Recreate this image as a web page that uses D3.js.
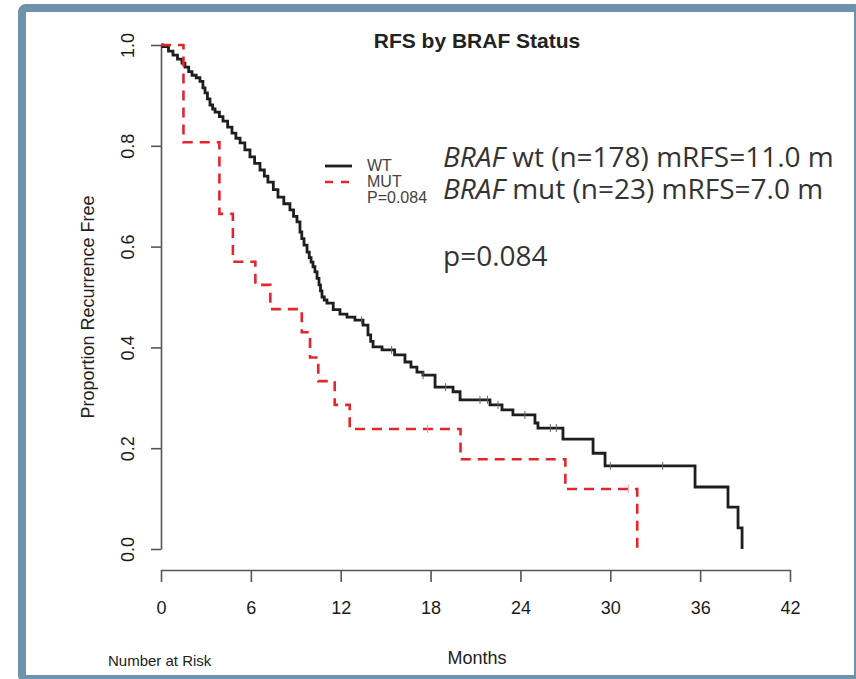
<!DOCTYPE html>
<html>
<head>
<meta charset="utf-8">
<script src="https://cdn.jsdelivr.net/npm/d3@7"></script>
<style>
  body { margin: 0; background: #fff; }
  text { font-family: "Liberation Sans", Arial, sans-serif; }
  text.note { font-family: "Open Sans", "Noto Sans", sans-serif; }
</style>
</head>
<body>
<div class="canvas"></div>
<script>
// curve data (months, proportion recurrence free)
const wtTimes = [0, 0.13, 0.5, 0.8, 1.1, 1.4, 1.6, 1.85, 2.07, 2.35, 2.6, 2.8, 2.94, 3.1, 3.27, 3.45, 3.61, 3.9, 4.14, 4.45, 4.74, 5.0, 5.28, 5.6, 5.94, 6.25, 6.61, 6.9, 7.14, 7.5, 7.81, 8.2, 8.61, 8.85, 9.08, 9.28, 9.4, 9.55, 9.75, 9.9, 10.02, 10.15, 10.28, 10.42, 10.55, 10.65, 10.75, 10.9, 11.08, 11.5, 11.95, 12.42, 12.95, 13.49, 13.82, 14.0, 14.16, 14.76, 15.6, 16.29, 16.69, 17.09, 17.49, 18.3, 19.5, 19.97, 21.97, 22.77, 23.5, 24.97, 25.17, 26.84, 28.85, 29.65, 35.66, 37.86, 38.53, 38.8];
const wtSurv  = [1, 0.997, 0.988, 0.98, 0.972, 0.964, 0.956, 0.947, 0.94, 0.935, 0.928, 0.915, 0.905, 0.893, 0.881, 0.873, 0.867, 0.858, 0.849, 0.837, 0.825, 0.815, 0.806, 0.792, 0.778, 0.765, 0.752, 0.74, 0.728, 0.713, 0.698, 0.685, 0.673, 0.66, 0.649, 0.629, 0.616, 0.603, 0.589, 0.578, 0.569, 0.56, 0.55, 0.537, 0.524, 0.512, 0.5, 0.494, 0.488, 0.475, 0.466, 0.46, 0.454, 0.444, 0.425, 0.412, 0.401, 0.395, 0.385, 0.371, 0.361, 0.351, 0.345, 0.321, 0.312, 0.296, 0.286, 0.276, 0.266, 0.25, 0.24, 0.218, 0.19, 0.165, 0.123, 0.083, 0.042, 0];
const mutTimes = [0, 1.5, 3.9, 4.8, 6.3, 7.3, 9.4, 9.95, 10.5, 11.6, 12.6, 20.0, 27.0, 31.8];
const mutSurv  = [1, 0.807, 0.665, 0.57, 0.524, 0.476, 0.43, 0.38, 0.333, 0.286, 0.238, 0.178, 0.119, 0];
const wtCensor = [13.4, 15.4, 17.5, 19.0, 21.3, 21.8, 22.5, 24.3, 26.0, 26.4, 30.0, 33.5];
const mutCensor = [17.8, 31.2];

const xTicks = [0, 6, 12, 18, 24, 30, 36, 42];
const yTicks = [0, 0.2, 0.4, 0.6, 0.8, 1.0];
const legendLabels = ['WT', 'MUT', 'P=0.084'];
const noteLines = [
  {it: 'BRAF', rest: ' wt (n=178) mRFS=11.0 m'},
  {it: 'BRAF', rest: ' mut (n=23) mRFS=7.0 m'},
  {it: '', rest: 'p=0.084'}
];

const svg = d3.select('.canvas')
  .append('svg')
  .attr('width', 856)
  .attr('height', 679);

// frame
svg.append('rect')
  .attr('x', 22).attr('y', 8)
  .attr('width', 836).attr('height', 671)
  .attr('rx', 4)
  .attr('fill', '#fff')
  .attr('stroke', '#6d92ab')
  .attr('stroke-width', 8);

const x = d3.scaleLinear().domain([0, 42]).range([161, 790]);
const y = d3.scaleLinear().domain([0, 1]).range([549, 45]);

// axes
const yAxis = d3.axisLeft(y).tickValues(yTicks).tickSize(10).tickSizeOuter(0)
  .tickFormat(d3.format('.1f'));
const yAxisGroup = svg.append('g').attr('transform', 'translate(161,0)').call(yAxis);
yAxisGroup.selectAll('text')
  .attr('x', null).attr('dy', null)
  .attr('transform', 'translate(-27,0) rotate(-90)')
  .attr('text-anchor', 'middle');

const xAxis = d3.axisBottom(x).tickValues(xTicks).tickSize(12).tickSizeOuter(0).tickPadding(19);
const xAxisGroup = svg.append('g').attr('transform', 'translate(0,570)').call(xAxis);

[yAxisGroup, xAxisGroup].forEach(g => {
  g.select('.domain').attr('stroke', '#555').attr('stroke-width', 1.6);
  g.selectAll('line').attr('stroke', '#555').attr('stroke-width', 1.6);
  g.selectAll('text')
    .attr('font-family', '"Liberation Sans", Arial, sans-serif')
    .attr('font-size', 18).attr('fill', '#1a1a1a');
});

// curves
const line = d3.line()
  .x(d => x(d[0]))
  .y(d => y(d[1]))
  .curve(d3.curveStepAfter);

const wtPts = wtTimes.map((t, i) => [t, wtSurv[i]]);
const mutPts = mutTimes.map((t, i) => [t, mutSurv[i]]);

svg.append('path').datum(wtPts)
  .attr('d', line)
  .attr('fill', 'none')
  .attr('stroke', '#1e1e1e')
  .attr('stroke-width', 2.8);

svg.append('path').datum(mutPts)
  .attr('d', line)
  .attr('fill', 'none')
  .attr('stroke', '#e3262d')
  .attr('stroke-width', 2.6)
  .attr('stroke-dasharray', '10,7');

// censor marks
const survAt = (times, surv, t) => {
  let s = surv[0];
  times.forEach((tt, i) => { if (tt <= t) s = surv[i]; });
  return s;
};
svg.selectAll('.cw').data(wtCensor).enter().append('line')
  .attr('x1', d => x(d)).attr('x2', d => x(d))
  .attr('y1', d => y(survAt(wtTimes, wtSurv, d)) - 4)
  .attr('y2', d => y(survAt(wtTimes, wtSurv, d)) + 4)
  .attr('stroke', '#666').attr('stroke-width', 1);
svg.selectAll('.cm').data(mutCensor).enter().append('line')
  .attr('x1', d => x(d)).attr('x2', d => x(d))
  .attr('y1', d => y(survAt(mutTimes, mutSurv, d)) - 4)
  .attr('y2', d => y(survAt(mutTimes, mutSurv, d)) + 4)
  .attr('stroke', '#e99').attr('stroke-width', 1);

// title and axis titles
svg.append('text')
  .attr('x', 477).attr('y', 48)
  .attr('text-anchor', 'middle')
  .attr('font-weight', 'bold')
  .attr('font-size', 21)
  .attr('fill', '#222')
  .text('RFS by BRAF Status');

svg.append('text')
  .attr('transform', 'translate(94,307) rotate(-90)')
  .attr('text-anchor', 'middle')
  .attr('font-size', 18)
  .attr('fill', '#222')
  .text('Proportion Recurrence Free');

svg.append('text')
  .attr('x', 477).attr('y', 664)
  .attr('text-anchor', 'middle')
  .attr('font-size', 18)
  .attr('fill', '#222')
  .text('Months');

svg.append('text')
  .attr('x', 108).attr('y', 666)
  .attr('font-size', 15)
  .attr('fill', '#222')
  .text('Number at Risk');

// legend
const leg = svg.append('g');
leg.append('line').attr('x1', 325).attr('x2', 352).attr('y1', 166).attr('y2', 166)
  .attr('stroke', '#1e1e1e').attr('stroke-width', 2.8);
leg.append('line').attr('x1', 325).attr('x2', 352).attr('y1', 182).attr('y2', 182)
  .attr('stroke', '#e3262d').attr('stroke-width', 2.6).attr('stroke-dasharray', '8,8');
leg.selectAll('text').data(legendLabels).enter().append('text')
  .attr('x', 367)
  .attr('y', (d, i) => 171 + i * 16)
  .attr('font-size', 16)
  .attr('fill', '#444')
  .text(d => d);

// annotation
const note = svg.append('g');
note.selectAll('text').data(noteLines).enter().append('text')
  .attr('class', 'note')
  .attr('x', 443)
  .attr('y', (d, i) => [167, 199, 266][i])
  .attr('font-size', 28)
  .attr('fill', '#333')
  .each(function(d) {
    const t = d3.select(this);
    if (d.it) t.append('tspan').attr('font-style', 'italic').text(d.it);
    t.append('tspan').text(d.rest);
  });
</script>
</body>
</html>
